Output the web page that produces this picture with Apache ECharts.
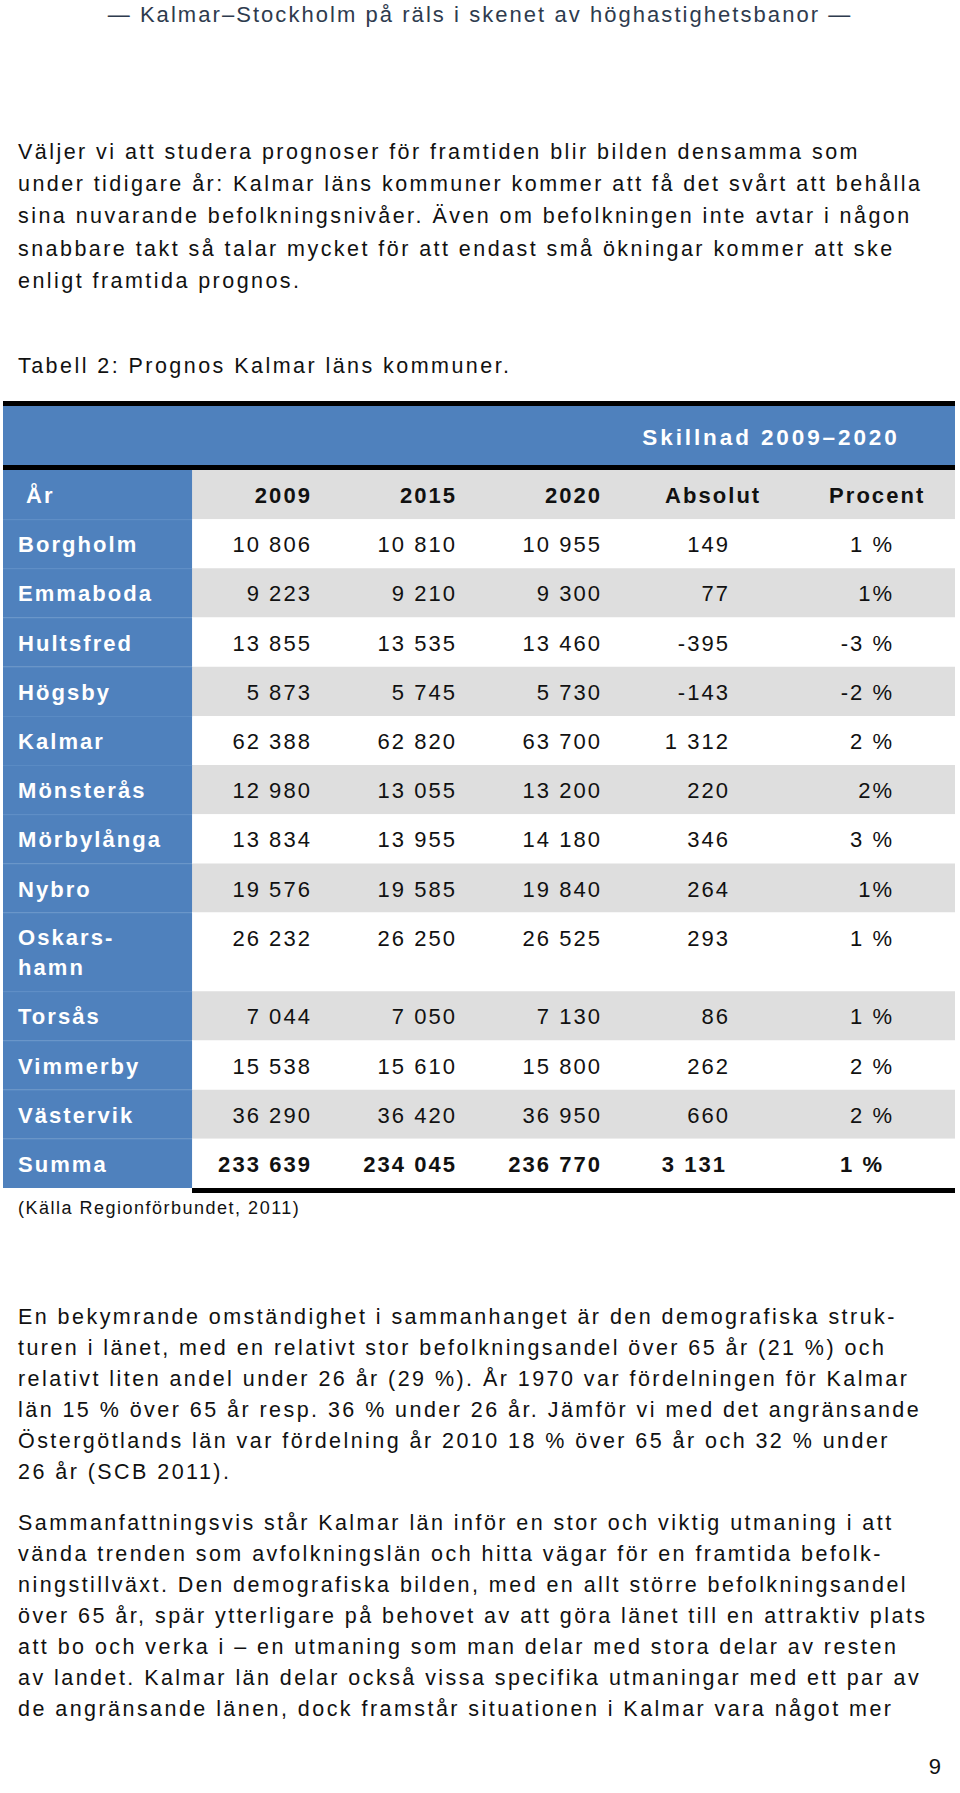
<!DOCTYPE html>
<html>
<head>
<meta charset="utf-8">
<script src="https://cdn.jsdelivr.net/npm/echarts@6.0.0/dist/echarts.min.js"></script>
<style>
html,body{margin:0;padding:0;background:#fff;}
#main{width:960px;height:1793px;}
#main text[style*="22px"]{letter-spacing:2.05px;}
#main text[style*="22.5px"]{letter-spacing:2.9px;}
#main text[style*="21.5px"]{letter-spacing:2.45px;}
#main text[style*="18px"]{letter-spacing:1.5px;}
</style>
</head>
<body>
<div id="main"></div>
<script>
// ---------- DATA ----------
const pageTitle = '— Kalmar–Stockholm på räls i skenet av höghastighetsbanor —';
const para1 = [
  'Väljer vi att studera prognoser för framtiden blir bilden densamma som',
  'under tidigare år: Kalmar läns kommuner kommer att få det svårt att behålla',
  'sina nuvarande befolkningsnivåer. Även om befolkningen inte avtar i någon',
  'snabbare takt så talar mycket för att endast små ökningar kommer att ske',
  'enligt framtida prognos.'
];
const tableCaption = 'Tabell 2: Prognos Kalmar läns kommuner.';
const groupHeader = 'Skillnad 2009–2020';
const columnHeaders = ['År', '2009', '2015', '2020', 'Absolut', 'Procent'];
const kommuner = ['Borgholm', 'Emmaboda', 'Hultsfred', 'Högsby', 'Kalmar', 'Mönsterås',
  'Mörbylånga', 'Nybro', 'Oskars-\nhamn', 'Torsås', 'Vimmerby', 'Västervik', 'Summa'];
const pop2009 = [10806, 9223, 13855, 5873, 62388, 12980, 13834, 19576, 26232, 7044, 15538, 36290, 233639];
const pop2015 = [10810, 9210, 13535, 5745, 62820, 13055, 13955, 19585, 26250, 7050, 15610, 36420, 234045];
const pop2020 = [10955, 9300, 13460, 5730, 63700, 13200, 14180, 19840, 26525, 7130, 15800, 36950, 236770];
const absolut = [149, 77, -395, -143, 1312, 220, 346, 264, 293, 86, 262, 660, 3131];
const procent = ['1 %', '1%', '-3 %', '-2 %', '2 %', '2%', '3 %', '1%', '1 %', '1 %', '2 %', '2 %', '1 %'];
const sourceNote = '(Källa Regionförbundet, 2011)';
const para2 = [
  'En bekymrande omständighet i sammanhanget är den demografiska struk-',
  'turen i länet, med en relativt stor befolkningsandel över 65 år (21 %) och',
  'relativt liten andel under 26 år (29 %). År 1970 var fördelningen för Kalmar',
  'län 15 % över 65 år resp. 36 % under 26 år. Jämför vi med det angränsande',
  'Östergötlands län var fördelning år 2010 18 % över 65 år och 32 % under',
  '26 år (SCB 2011).'
];
const para3 = [
  'Sammanfattningsvis står Kalmar län inför en stor och viktig utmaning i att',
  'vända trenden som avfolkningslän och hitta vägar för en framtida befolk-',
  'ningstillväxt. Den demografiska bilden, med en allt större befolkningsandel',
  'över 65 år, spär ytterligare på behovet av att göra länet till en attraktiv plats',
  'att bo och verka i – en utmaning som man delar med stora delar av resten',
  'av landet. Kalmar län delar också vissa specifika utmaningar med ett par av',
  'de angränsande länen, dock framstår situationen i Kalmar vara något mer'
];
const pageNumber = '9';

// ---------- LAYOUT ----------
const FONT = '"Liberation Sans", Arial, sans-serif';
const BLUE = '#4f81bd';
const GRAY = '#dedede';
const rowSpans = [1, 1, 1, 1, 1, 1, 1, 1, 1, 1.6, 1, 1, 1, 1]; // header row + data rows
const colWidths = [1.239, 1, 1, 1, 1, 1];
const totalW = colWidths.reduce((a, b) => a + b, 0);
const totalH = rowSpans.reduce((a, b) => a + b, 0);
const valueAnchors = [2.025, 2.976, 3.926, 4.765, 5.840]; // right edges (column units)
const headerAnchors = [2.025, 2.976, 3.926, 4.654, 5.729];
const headerAligns = ['right', 'right', 'right', 'center', 'center'];
const totalRowShift = [0, 0, 0, -3, -10];

const fmt = n => (n < 0 ? '-' : '') + String(Math.abs(n)).replace(/\B(?=(\d{3})+(?!\d))/g, ' ');
const valueColumns = [pop2009.map(fmt), pop2015.map(fmt), pop2020.map(fmt), absolut.map(fmt), procent];

const rowStarts = [];
rowSpans.reduce((acc, s) => { rowStarts.push(acc); return acc + s; }, 0);
const tableData = rowSpans.map((s, r) => [rowStarts[r], s, r]);

function txt(text, x, y, size, opts) {
  opts = opts || {};
  const align = opts.align || 'left';
  return {
    type: 'text', silent: true,
    style: {
      text: text, x: x, y: y,
      fontSize: size, fontFamily: FONT, fontWeight: opts.weight || 'normal',
      fill: opts.fill || '#111',
      textAlign: align, align: align,
      textVerticalAlign: 'middle', verticalAlign: 'middle',
      lineHeight: opts.lineHeight
    }
  };
}

function renderRow(params, api) {
  const y0 = api.value(0), span = api.value(1), r = api.value(2);
  const tl = api.coord([0, y0]);
  const br = api.coord([totalW, y0 + span]);
  const nameRight = api.coord([colWidths[0], y0])[0];
  const h = br[1] - tl[1];
  const yText = api.coord([0, y0 + 0.5])[1] + 1;
  const yMid = api.coord([0, y0 + span / 2])[1] + 1;
  const children = [
    { type: 'rect', shape: { x: nameRight, y: tl[1], width: br[0] - nameRight, height: h },
      style: { fill: r % 2 === 0 ? GRAY : '#ffffff' } },
    { type: 'rect', shape: { x: tl[0], y: tl[1], width: nameRight - tl[0], height: h },
      style: { fill: BLUE } }
  ];
  if (r > 0) {
    children.push({ type: 'rect', shape: { x: tl[0], y: tl[1], width: nameRight - tl[0], height: 1 },
      style: { fill: '#5a8bc4' } });
  }
  if (r === 0) {
    children.push(txt(columnHeaders[0], tl[0] + 23, yText, 22, { weight: 'bold', fill: '#ffffff' }));
    for (let c = 0; c < 5; c++) {
      const x = api.coord([headerAnchors[c], y0])[0];
      children.push(txt(columnHeaders[c + 1], x, yText, 22, { weight: 'bold', fill: '#111', align: headerAligns[c] }));
    }
  } else {
    const i = r - 1;
    const isTotal = i === kommuner.length - 1;
    children.push(txt(kommuner[i], tl[0] + 15, yMid, 22, { weight: 'bold', fill: '#ffffff', lineHeight: 30 }));
    for (let c = 0; c < 5; c++) {
      const x = api.coord([valueAnchors[c], y0])[0] + (isTotal ? totalRowShift[c] : 0);
      children.push(txt(valueColumns[c][i], x, yText, 22, { weight: isTotal ? 'bold' : 'normal', fill: '#111', align: 'right' }));
    }
  }
  return { type: 'group', children: children };
}

// ---------- GRAPHIC (page text & table header band) ----------
const graphics = [];
graphics.push(txt(pageTitle, 480, 14, 22, { fill: '#2e3b4e', align: 'center' }));
para1.forEach((l, k) => graphics.push(txt(l, 18, 152 + k * 32.2, 21.5)));
graphics.push(txt(tableCaption, 18, 366, 21.5));
graphics.push({ type: 'rect', silent: true, shape: { x: 3, y: 401, width: 952, height: 5 }, style: { fill: '#000' } });
graphics.push({ type: 'rect', silent: true, shape: { x: 3, y: 406, width: 952, height: 59 }, style: { fill: BLUE } });
graphics.push({ type: 'rect', silent: true, shape: { x: 3, y: 465, width: 952, height: 5 }, style: { fill: '#000' } });
graphics.push(txt(groupHeader, 771, 437, 22.5, { weight: 'bold', fill: '#ffffff', align: 'center' }));
graphics.push({ type: 'rect', silent: true, shape: { x: 192, y: 1188, width: 763, height: 5 }, style: { fill: '#000' } });
graphics.push(txt(sourceNote, 18, 1208, 18));
para2.forEach((l, k) => graphics.push(txt(l, 18, 1317 + k * 31, 21.5)));
para3.forEach((l, k) => graphics.push(txt(l, 18, 1523 + k * 31, 21.5)));
graphics.push(txt(pageNumber, 943, 1766, 22, { align: 'right' }));

const chart = echarts.init(document.getElementById('main'), null, { renderer: 'svg' });
chart.setOption({
  backgroundColor: '#ffffff',
  animation: false,
  grid: { left: 3, top: 470, width: 952, height: 718 },
  xAxis: { type: 'value', min: 0, max: totalW, show: false },
  yAxis: { type: 'value', min: 0, max: totalH, inverse: true, show: false },
  graphic: graphics,
  series: [{
    type: 'custom',
    renderItem: renderRow,
    data: tableData,
    clip: false,
    silent: true
  }]
});
</script>
</body>
</html>
